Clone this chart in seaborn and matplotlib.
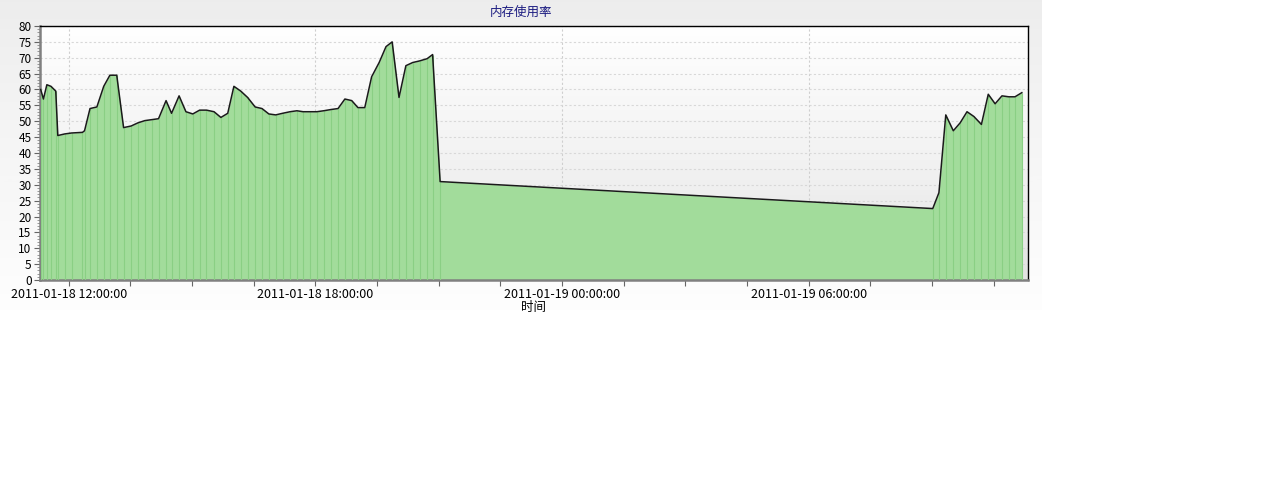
import numpy as np
import pandas as pd
import matplotlib
matplotlib.use("Agg")
import matplotlib.pyplot as plt
import matplotlib.dates as mdates
import seaborn as sns

plt.rcParams['font.family'] = ['Noto Sans CJK SC', 'DejaVu Sans']

# 数据：时间点与内存使用率
times_day1 = [
    "11:19", "11:23", "11:28", "11:34", "11:41", "11:44", "11:54", "12:04", "12:20", "12:23",
    "12:31", "12:41", "12:51", "13:00", "13:10", "13:20", "13:31", "13:41", "13:51", "14:01",
    "14:11", "14:22", "14:30", "14:41", "14:51", "15:01", "15:11", "15:21", "15:32", "15:42",
    "15:52", "16:01", "16:11", "16:21", "16:32", "16:42", "16:52", "17:02", "17:12", "17:23",
    "17:33", "17:42", "17:52", "18:02", "18:12", "18:23", "18:33", "18:43", "18:53", "19:02",
    "19:12", "19:22", "19:33", "19:43", "19:52", "20:02", "20:12", "20:22", "20:32", "20:43",
    "20:51", "21:02",
]
usage_day1 = [
    60.0, 57.0, 61.5, 61.0, 59.5, 45.5, 46.0, 46.3, 46.5, 47.0,
    54.0, 54.5, 61.0, 64.5, 64.5, 48.0, 48.5, 49.5, 50.2, 50.5,
    50.8, 56.5, 52.5, 58.0, 53.0, 52.3, 53.5, 53.5, 53.0, 51.2,
    52.5, 61.0, 59.5, 57.5, 54.5, 54.0, 52.3, 52.0, 52.5, 53.0,
    53.3, 53.0, 53.0, 53.0, 53.3, 53.7, 54.0, 57.0, 56.5, 54.3,
    54.3, 64.0, 68.5, 73.5, 75.0, 57.5, 67.5, 68.5, 69.0, 69.7,
    71.0, 31.0,
]
times_day2 = [
    "09:01", "09:10", "09:20", "09:31", "09:41", "09:51", "10:01", "10:12", "10:22", "10:32",
    "10:42", "10:52", "11:01", "11:11",
]
usage_day2 = [
    22.5, 27.5, 52.0, 47.0, 49.5, 53.0, 51.5, 49.0, 58.5, 55.5,
    58.0, 57.7, 57.7, 59.0,
]

df = pd.DataFrame({
    "time": pd.to_datetime(["2011-01-18 " + t for t in times_day1] +
                           ["2011-01-19 " + t for t in times_day2]),
    "usage": usage_day1 + usage_day2,
})

W, H = 1261, 495
fig = plt.figure(figsize=(W / 100, H / 100), dpi=100)
fig.patch.set_facecolor("white")

# 图表外框背景渐变
bg = fig.add_axes([0, 1 - 310 / H, 1042 / W, 310 / H])
grad = np.linspace(0, 1, 256).reshape(-1, 1)
bg.imshow(grad, aspect="auto", cmap="Greys_r", vmin=-6.5, vmax=1.1,
          extent=[0, 1, 0, 1])
bg.set_axis_off()

ax = fig.add_axes([40 / W, 1 - 280 / H, 988 / W, 254 / H])

x0 = pd.Timestamp("2011-01-18 11:18")
x1 = pd.Timestamp("2011-01-19 11:20")

# 绘图区背景渐变
ax.imshow(grad, aspect="auto", cmap="Greys_r", vmin=-4, vmax=1.02,
          extent=[0, 1, 1, 0], transform=ax.transAxes, zorder=0)

ax.fill_between(df["time"], 0, df["usage"], color="#a2dc9b",
                linewidth=0, zorder=2)
ax.vlines(df["time"], 0, df["usage"], color="#8acf84", linewidth=0.8, zorder=3)
sns.lineplot(data=df, x="time", y="usage", ax=ax, color="#1a1a1a",
             linewidth=1.1, zorder=4)

ax.yaxis.set_major_locator(plt.MultipleLocator(5))
ax.yaxis.set_minor_locator(plt.MultipleLocator(1))
ax.xaxis.set_major_locator(mdates.HourLocator(byhour=[0, 6, 12, 18]))
minor_ticks = pd.date_range("2011-01-18 00:00", "2011-01-20 00:00", freq="90min")
ax.set_xticks(mdates.date2num(minor_ticks), minor=True)
ax.xaxis.set_major_formatter(mdates.DateFormatter("%Y-%m-%d %H:%M:%S"))

ax.set_xlim(x0, x1)
ax.set_ylim(0, 80)

ax.tick_params(axis="x", which="major", labelsize=9, length=4, width=0.8,
               color="#666666", pad=2)
ax.tick_params(axis="y", which="major", labelsize=8.5, length=4, width=0.8,
               color="#666666", pad=2)
ax.tick_params(axis="y", which="minor", length=2, width=0.6, color="#888888")
ax.tick_params(axis="x", which="minor", length=4, width=0.8, color="#666666")

ax.grid(True, axis="y", which="major", color="#d8d8d8", linestyle=(0, (2, 2)),
        linewidth=0.8, zorder=1)
ax.grid(True, axis="x", which="major", color="#cfcfcf", linestyle=(0, (2, 2)),
        linewidth=0.8, zorder=1)

for side in ["top", "right"]:
    ax.spines[side].set_color("black")
    ax.spines[side].set_linewidth(1.0)
for side in ["left", "bottom"]:
    ax.spines[side].set_color("#808080")
    ax.spines[side].set_linewidth(1.8)

ax.set_xlabel("时间", fontsize=9, labelpad=0)
ax.set_ylabel("")

fig.text(521 / W, 1 - 12 / H, "内存使用率", ha="center", va="center",
         fontsize=9, color="#1a1a80")

fig.savefig("out.png", dpi=100)
